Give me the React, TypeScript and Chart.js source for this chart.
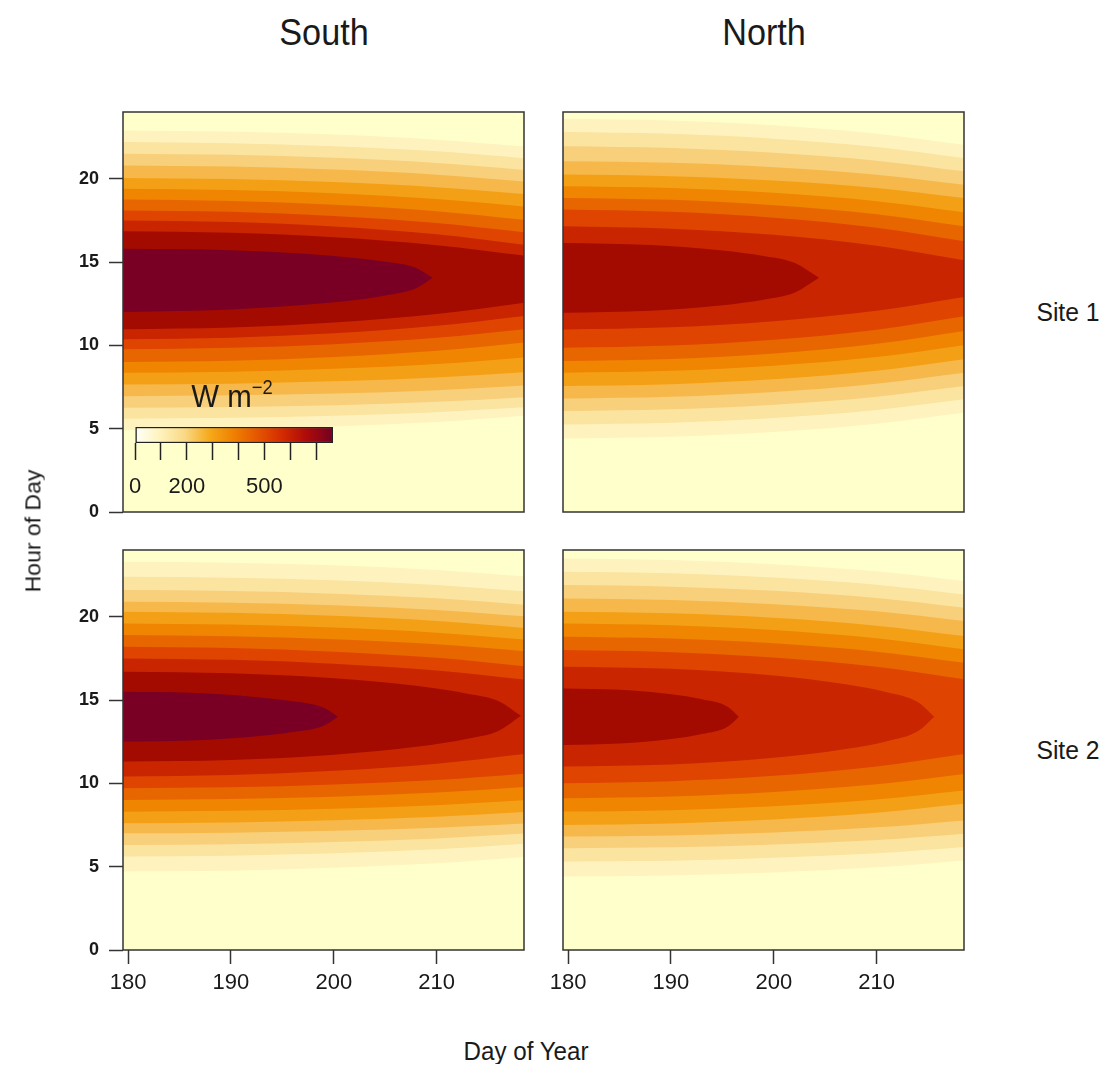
import React, { useEffect, useRef } from 'react';
import { Chart, registerables } from 'chart.js';

Chart.register(...registerables);

const FONT = '"Liberation Sans", Arial, Helvetica, sans-serif';
Chart.defaults.font.family = FONT;

// ---------------- axis ranges / labels ----------------
const DAY_MIN = 179.5;
const DAY_MAX = 218.5;
const DAY_TICK_STEP = 10;
const HOUR_MIN = 0;
const HOUR_MAX = 24;
const HOUR_TICK_STEP = 5;

const COLUMN_TITLES = ['South', 'North'];
const ROW_TITLES = ['Site 1', 'Site 2'];
const X_TITLE = 'Day of Year';
const Y_TITLE = 'Hour of Day';

// ---------------- colour-bar legend (W m^-2) ----------------
const LEGEND_MIN = 0;
const LEGEND_MAX = 765;
const LEGEND_TICK_STEP = 100;
const LEGEND_LABELS = [0, 200, 500];
const LEGEND_STOPS = [0, 0.12, 0.25, 0.38, 0.5, 0.62, 0.74, 0.86, 1];
const LEGEND_COLORS = ['#FFFFF8', '#FFF4C0', '#F9D985', '#F5A818', '#EF8000', '#E55500', '#D42C00', '#B00C08', '#720022'];

// band colours: index 0 = background, 1..11 = contour levels
const BAND_COLORS = ['#FFFFCC', '#FEF3BE', '#FBE3A0', '#F8CF7B', '#F6B84A', '#F4A016', '#EF8500', '#E86600', '#DF4500', '#C92500', '#A30A00', '#790024'];

// ---------------- contour band boundaries (hour of day) ----------------
const D5 = [179, 190, 200, 210, 219];

// South, Site 1
const southSite1Days = [D5, D5, D5, D5, D5, D5, D5, D5, D5, D5, [179, 190, 200, 205, 208, 209.6]];
const southSite1Upper = [
  [22.9, 22.83, 22.65, 22.34, 21.9],
  [22.2, 22.13, 21.95, 21.64, 21.2],
  [21.5, 21.43, 21.25, 20.94, 20.5],
  [20.8, 20.73, 20.55, 20.24, 19.8],
  [20.05, 19.98, 19.8, 19.49, 19.05],
  [19.4, 19.32, 19.13, 18.78, 18.3],
  [18.75, 18.66, 18.44, 18.05, 17.5],
  [18.1, 18.01, 17.76, 17.34, 16.75],
  [17.5, 17.4, 17.13, 16.66, 16.0],
  [16.85, 16.75, 16.48, 16.01, 15.35],
  [15.8, 15.71, 15.36, 15.01, 14.64, 14.05],
];
const southSite1Lower = [
  [4.9, 4.96, 5.13, 5.4, 5.8],
  [5.6, 5.65, 5.78, 5.99, 6.3],
  [6.25, 6.3, 6.41, 6.61, 6.9],
  [6.95, 7.0, 7.11, 7.31, 7.6],
  [7.65, 7.7, 7.84, 8.07, 8.4],
  [8.35, 8.42, 8.59, 8.88, 9.3],
  [9.0, 9.08, 9.3, 9.67, 10.2],
  [9.76, 9.85, 10.07, 10.45, 11.0],
  [10.36, 10.46, 10.72, 11.17, 11.8],
  [10.96, 11.07, 11.37, 11.88, 12.6],
  [12.0, 12.15, 12.58, 12.99, 13.42, 14.05],
];

// North, Site 1
const northSite1Days = [D5, D5, D5, D5, D5, D5, D5, D5, D5, [179, 188, 195, 199, 202, 204.4], []];
const northSite1Upper = [
  [23.6, 23.49, 23.2, 22.7, 22.0],
  [22.8, 22.69, 22.4, 21.9, 21.2],
  [21.95, 21.84, 21.56, 21.08, 20.4],
  [21.05, 20.95, 20.69, 20.24, 19.6],
  [20.25, 20.15, 19.89, 19.44, 18.8],
  [19.55, 19.44, 19.15, 18.65, 17.95],
  [18.85, 18.73, 18.41, 17.87, 17.1],
  [18.15, 18.01, 17.66, 17.06, 16.2],
  [17.15, 17.0, 16.63, 15.97, 15.05],
  [16.15, 16.02, 15.69, 15.36, 14.95, 14.05],
  [],
];
const northSite1Lower = [
  [4.4, 4.51, 4.8, 5.3, 6.0],
  [5.25, 5.36, 5.64, 6.12, 6.8],
  [6.05, 6.16, 6.44, 6.92, 7.6],
  [6.8, 6.91, 7.2, 7.7, 8.4],
  [7.55, 7.67, 7.96, 8.47, 9.2],
  [8.35, 8.47, 8.78, 9.3, 10.05],
  [9.05, 9.18, 9.51, 10.09, 10.9],
  [9.85, 9.99, 10.34, 10.94, 11.8],
  [10.95, 11.09, 11.45, 12.07, 12.95],
  [11.95, 12.08, 12.41, 12.74, 13.15, 14.05],
  [],
];

// South, Site 2
const southSite2Days = [D5, D5, D5, D5, D5, D5, D5, D5, D5, [179, 190, 200, 208, 213, 216, 218.2], [179, 186, 192, 196, 199, 200.4]];
const southSite2Upper = [
  [23.3, 23.24, 23.08, 22.8, 22.4],
  [22.4, 22.34, 22.18, 21.9, 21.5],
  [21.6, 21.54, 21.38, 21.1, 20.7],
  [20.9, 20.84, 20.68, 20.4, 20.0],
  [20.3, 20.23, 20.05, 19.74, 19.3],
  [19.6, 19.53, 19.35, 19.04, 18.6],
  [18.9, 18.83, 18.65, 18.34, 17.9],
  [18.2, 18.12, 17.9, 17.53, 17.0],
  [17.5, 17.41, 17.18, 16.77, 16.2],
  [16.7, 16.6, 16.3, 15.85, 15.38, 14.94, 14.05],
  [15.5, 15.43, 15.2, 14.92, 14.54, 14.0],
];
const southSite2Lower = [
  [4.7, 4.76, 4.93, 5.2, 5.6],
  [5.6, 5.66, 5.8, 6.05, 6.4],
  [6.3, 6.35, 6.48, 6.69, 7.0],
  [7.0, 7.04, 7.15, 7.34, 7.6],
  [7.6, 7.65, 7.78, 7.99, 8.3],
  [8.3, 8.35, 8.48, 8.69, 9.0],
  [9.0, 9.06, 9.2, 9.45, 9.8],
  [9.7, 9.76, 9.93, 10.2, 10.6],
  [10.4, 10.5, 10.75, 11.18, 11.8],
  [11.3, 11.4, 11.72, 12.19, 12.68, 13.14, 14.05],
  [12.5, 12.57, 12.8, 13.08, 13.46, 14.0],
];

// North, Site 2
const northSite2Days = [D5, D5, D5, D5, D5, D5, D5, D5, [179, 190, 200, 207, 211, 214, 215.6], [179, 185, 190, 193, 195.5, 196.6], []];
const northSite2Upper = [
  [23.5, 23.4, 23.15, 22.72, 22.1],
  [22.7, 22.6, 22.35, 21.92, 21.3],
  [21.9, 21.8, 21.55, 21.12, 20.5],
  [21.1, 21.0, 20.75, 20.32, 19.7],
  [20.3, 20.2, 19.93, 19.46, 18.8],
  [19.6, 19.49, 19.2, 18.7, 18.0],
  [18.8, 18.69, 18.4, 17.9, 17.2],
  [18.0, 17.87, 17.55, 16.99, 16.2],
  [17.0, 16.87, 16.47, 15.94, 15.47, 14.88, 14.0],
  [15.7, 15.61, 15.34, 15.04, 14.6, 14.0],
  [],
];
const northSite2Lower = [
  [4.4, 4.47, 4.65, 4.96, 5.4],
  [5.3, 5.36, 5.53, 5.8, 6.2],
  [6.1, 6.16, 6.33, 6.6, 7.0],
  [6.8, 6.87, 7.05, 7.36, 7.8],
  [7.5, 7.59, 7.83, 8.23, 8.8],
  [8.3, 8.39, 8.63, 9.03, 9.6],
  [9.1, 9.21, 9.48, 9.94, 10.6],
  [10.0, 10.13, 10.45, 11.01, 11.8],
  [11.0, 11.13, 11.53, 12.06, 12.53, 13.12, 14.0],
  [12.3, 12.39, 12.66, 12.96, 13.4, 14.0],
  [],
];

// ---------------- layout ----------------
const OFF = 8; // body margin
const PANEL_W = 401;
const PANEL_H = 400;
const COL_X = [123, 563];
const ROW_Y = [112, 550];
const TEXT_COLOR = '#1a1a1a';

const bgPlugin = {
  id: 'panelBg',
  beforeDraw(chart: any) {
    const { ctx, chartArea: a } = chart;
    ctx.save();
    ctx.fillStyle = BAND_COLORS[0];
    ctx.fillRect(a.left, a.top, a.right - a.left, a.bottom - a.top);
    ctx.restore();
  },
};
const boxPlugin = {
  id: 'panelBox',
  afterDraw(chart: any) {
    const { ctx, chartArea: a } = chart;
    ctx.save();
    ctx.strokeStyle = '#333';
    ctx.lineWidth = 1.5;
    ctx.strokeRect(a.left, a.top, a.right - a.left, a.bottom - a.top);
    ctx.restore();
  },
};

type PanelProps = {
  days: number[][];
  upper: number[][];
  lower: number[][];
  showX: boolean;
  showY: boolean;
  chartLeft: number;
  chartTop: number;
};

function HeatPanel({ days, upper, lower, showX, showY, chartLeft, chartTop }: PanelProps) {
  const ref = useRef<HTMLCanvasElement | null>(null);
  const padLeft = showY ? 0 : 24;
  const yWidth = showY ? 85 : 0;
  const padTop = 24;
  const padRight = 24;
  const padBottom = showX ? 0 : 24;
  const xHeight = showX ? 50 : 0;
  const W = padLeft + yWidth + PANEL_W + padRight;
  const H = padTop + PANEL_H + xHeight + padBottom;
  const left = chartLeft - yWidth - padLeft;
  const top = chartTop - padTop;

  useEffect(() => {
    if (!ref.current) return;
    const datasets: any[] = [];
    for (let k = days.length - 1; k >= 0; k--) {
      const d = days[k];
      if (!d.length) continue;
      datasets.push({
        data: d.map((x, i) => ({ x, y: lower[k][i] })),
        borderWidth: 0,
        pointRadius: 0,
        fill: false,
        cubicInterpolationMode: 'monotone',
      });
      datasets.push({
        data: d.map((x, i) => ({ x, y: upper[k][i] })),
        borderWidth: 0,
        pointRadius: 0,
        fill: '-1',
        backgroundColor: BAND_COLORS[k + 1],
        cubicInterpolationMode: 'monotone',
      });
    }
    const chart = new Chart(ref.current, {
      type: 'line',
      data: { datasets },
      options: {
        responsive: false,
        animation: false,
        events: [],
        layout: { padding: { left: padLeft, top: padTop, right: padRight, bottom: padBottom } },
        plugins: { legend: { display: false }, tooltip: { enabled: false } },
        scales: {
          x: {
            type: 'linear',
            min: DAY_MIN,
            max: DAY_MAX,
            display: showX,
            ticks: {
              stepSize: DAY_TICK_STEP,
              includeBounds: false,
              autoSkip: false,
              maxRotation: 0,
              color: TEXT_COLOR,
              font: { family: FONT, size: 22 },
              padding: 6,
            },
            grid: { display: true, drawOnChartArea: false, drawTicks: true, tickLength: 14, tickColor: '#333', tickWidth: 1.5 },
            border: { display: false },
            afterFit: (s: any) => { if (showX) s.height = xHeight; },
          },
          y: {
            type: 'linear',
            min: HOUR_MIN,
            max: HOUR_MAX,
            display: showY,
            ticks: {
              stepSize: HOUR_TICK_STEP,
              includeBounds: false,
              autoSkip: false,
              color: TEXT_COLOR,
              font: { family: FONT, size: 18, weight: 'bold' },
              padding: 10,
            },
            grid: { display: true, drawOnChartArea: false, drawTicks: true, tickLength: 14, tickColor: '#333', tickWidth: 1.5 },
            border: { display: false },
            afterFit: (s: any) => { if (showY) s.width = yWidth; },
          },
        },
      } as any,
      plugins: [bgPlugin, boxPlugin],
    });
    return () => chart.destroy();
  }, []);

  return (
    <canvas
      ref={ref}
      width={W}
      height={H}
      style={{ position: 'absolute', left: left - OFF, top: top - OFF, width: W, height: H }}
    />
  );
}

function ColorBar() {
  const ref = useRef<HTMLCanvasElement | null>(null);
  const barLeft = 135;
  const barTop = 427;
  const barW = 198;
  const barH = 16;
  const padLeft = 20;
  const padTop = 22;
  const padRight = 22;
  const axisH = 66;
  const W = padLeft + barW + padRight;
  const H = padTop + barH + axisH;

  useEffect(() => {
    if (!ref.current) return;
    const chart = new Chart(ref.current, {
      type: 'bar',
      data: {
        labels: [''],
        datasets: [
          {
            data: [[LEGEND_MIN, LEGEND_MAX]],
            backgroundColor: (c: any) => {
              const ch = c.chart;
              const xs = ch.scales && ch.scales.x;
              if (!xs || !ch.chartArea) return LEGEND_COLORS[0];
              const g = ch.ctx.createLinearGradient(xs.getPixelForValue(LEGEND_MIN), 0, xs.getPixelForValue(LEGEND_MAX), 0);
              LEGEND_STOPS.forEach((s, i) => g.addColorStop(s, LEGEND_COLORS[i]));
              return g;
            },
            borderColor: '#222',
            borderWidth: 1.5,
            borderSkipped: false,
            barPercentage: 1,
            categoryPercentage: 1,
          },
        ],
      },
      options: {
        indexAxis: 'y',
        responsive: false,
        animation: false,
        events: [],
        layout: { padding: { left: padLeft, top: padTop, right: padRight, bottom: 0 } },
        plugins: { legend: { display: false }, tooltip: { enabled: false } },
        scales: {
          x: {
            type: 'linear',
            min: LEGEND_MIN,
            max: LEGEND_MAX,
            ticks: {
              stepSize: LEGEND_TICK_STEP,
              includeBounds: false,
              autoSkip: false,
              maxRotation: 0,
              color: TEXT_COLOR,
              font: { family: FONT, size: 22 },
              padding: 14,
              callback: (v: any) => (LEGEND_LABELS.includes(Number(v)) ? String(v) : ''),
            },
            grid: { display: true, drawOnChartArea: false, drawTicks: true, tickLength: 17, tickColor: '#222', tickWidth: 1.5 },
            border: { display: false },
            afterFit: (s: any) => { s.height = axisH; },
          },
          y: { display: false },
        },
      } as any,
    });
    return () => chart.destroy();
  }, []);

  return (
    <canvas
      ref={ref}
      width={W}
      height={H}
      style={{ position: 'absolute', left: barLeft - padLeft - OFF, top: barTop - padTop - OFF, width: W, height: H }}
    />
  );
}

function Label({ x, y, size, text, rotate = false, squash = 0.95 }: { x: number; y: number; size: number; text: React.ReactNode; rotate?: boolean; squash?: number }) {
  return (
    <div
      style={{
        position: 'absolute',
        left: x - OFF,
        top: y - OFF,
        transform: rotate ? `translate(-50%, -50%) rotate(-90deg) scaleY(${squash})` : `translate(-50%, -50%) scaleX(${squash})`,
        fontFamily: FONT,
        fontSize: size,
        lineHeight: 1,
        whiteSpace: 'nowrap',
        color: TEXT_COLOR,
      }}
    >
      {text}
    </div>
  );
}

export default function App() {
  return (
    <div style={{ position: 'relative', width: 1094, height: 1056, background: '#fff', overflow: 'hidden' }}>
      <HeatPanel days={southSite1Days} upper={southSite1Upper} lower={southSite1Lower} showX={false} showY={true} chartLeft={COL_X[0]} chartTop={ROW_Y[0]} />
      <HeatPanel days={northSite1Days} upper={northSite1Upper} lower={northSite1Lower} showX={false} showY={false} chartLeft={COL_X[1]} chartTop={ROW_Y[0]} />
      <HeatPanel days={southSite2Days} upper={southSite2Upper} lower={southSite2Lower} showX={true} showY={true} chartLeft={COL_X[0]} chartTop={ROW_Y[1]} />
      <HeatPanel days={northSite2Days} upper={northSite2Upper} lower={northSite2Lower} showX={true} showY={false} chartLeft={COL_X[1]} chartTop={ROW_Y[1]} />
      <ColorBar />
      <Label x={232} y={396} size={32} squash={0.92} text={<span>W m<span style={{ fontSize: 20, position: 'relative', top: -13 }}>−2</span></span>} />
      <Label x={COL_X[0] + PANEL_W / 2} y={33} size={36} text={COLUMN_TITLES[0]} />
      <Label x={COL_X[1] + PANEL_W / 2} y={33} size={36} text={COLUMN_TITLES[1]} />
      <Label x={1068} y={ROW_Y[0] + PANEL_H / 2} size={26} text={ROW_TITLES[0]} />
      <Label x={1068} y={ROW_Y[1] + PANEL_H / 2} size={26} text={ROW_TITLES[1]} />
      <Label x={33} y={531} size={23} rotate={true} squash={0.93} text={Y_TITLE} />
      <Label x={526} y={1051} size={26} squash={0.93} text={X_TITLE} />
    </div>
  );
}
